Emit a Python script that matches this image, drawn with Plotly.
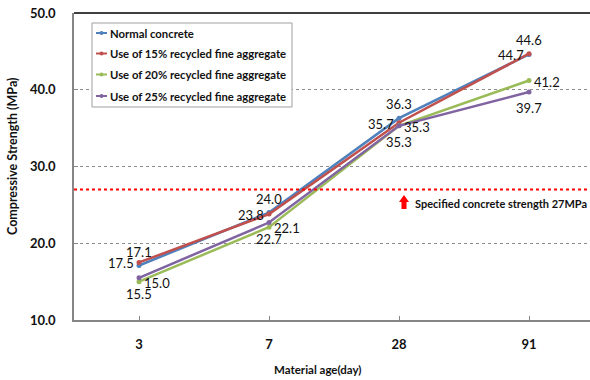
import plotly.graph_objects as go

ages = ["3", "7", "28", "91"]
normal = [17.1, 24.0, 36.3, 44.6]
rfa15 = [17.5, 23.8, 35.7, 44.7]
rfa20 = [15.0, 22.1, 35.3, 41.2]
rfa25 = [15.5, 22.7, 35.3, 39.7]
spec_strength = 27
names = ["Normal concrete", "Use of 15% recycled fine aggregate",
         "Use of 20% recycled fine aggregate", "Use of 25% recycled fine aggregate"]
series = [normal, rfa15, rfa20, rfa25]
colors = ["#4F81BD", "#C0504D", "#9BBB59", "#8064A2"]
# label offsets (px) relative to the point: (xshift, yshift)
label_shift = [(0, 14), (-18, -1), (18, -1), (0, -16)]

W, H = 590, 380
L, T, B = 74, 13, 60
plot_w = W - L
plot_h = H - T - B
cat_px = 130
xpos = list(range(len(ages)))
x_max = -0.5 + plot_w / cat_px


def px_to_x(px):
    return (px - L) / plot_w


def py_to_p(py):
    return (H - B - py) / plot_h


def py_to_y(py):
    return 10 + (H - B - py) / (plot_h / 40)


fig = go.Figure()
for name, vals, col in zip(names, series, colors):
    fig.add_trace(go.Scatter(
        x=xpos, y=vals, name=name, mode="lines+markers",
        line=dict(color=col, width=2.5),
        marker=dict(color=col, size=5, symbol="circle"),
        showlegend=False,
    ))

for vals, (dx, dy) in zip(series, label_shift):
    for xi, v in zip(xpos, vals):
        fig.add_annotation(x=xi, y=v, xref="x", yref="y", showarrow=False,
                           text=f"{v:.1f}", xshift=dx, yshift=dy,
                           font=dict(family="Lato", size=13, color="#111111"))

fig.add_hline(y=spec_strength, line=dict(color="#FF0000", width=2, dash="dot"))

# arrow shape
path = (f"M {px_to_x(404)} {py_to_y(195)} L {px_to_x(409)} {py_to_y(202)} "
        f"L {px_to_x(406.5)} {py_to_y(202)} L {px_to_x(406.5)} {py_to_y(209)} "
        f"L {px_to_x(401.5)} {py_to_y(209)} L {px_to_x(401.5)} {py_to_y(202)} "
        f"L {px_to_x(399)} {py_to_y(202)} Z")
fig.add_shape(type="path", path=path, xref="paper", yref="y",
              fillcolor="#FF0000", line=dict(width=0))
fig.add_annotation(x=px_to_x(413), y=py_to_y(203), xref="paper", yref="y",
                   xanchor="left", yanchor="middle", showarrow=False,
                   text=f"<b>Specified concrete strength {spec_strength}MPa</b>",
                   font=dict(family="Lato", size=11, color="#111111"))

# top border line
fig.add_shape(type="line", xref="paper", yref="paper", x0=0, x1=1, y0=1, y1=1,
              line=dict(color="#000000", width=1.5))

# custom legend
fig.add_shape(type="rect", xref="paper", yref="paper", layer="above",
              x0=px_to_x(92), x1=px_to_x(292), y0=py_to_p(107), y1=py_to_p(23),
              fillcolor="white", line=dict(color="#A0A0A0", width=1))
leg_y = [33, 53.5, 74.5, 96]
for name, col, ly in zip(names, colors, leg_y):
    fig.add_shape(type="line", xref="paper", yref="paper", layer="above",
                  x0=px_to_x(96), x1=px_to_x(107), y0=py_to_p(ly), y1=py_to_p(ly),
                  line=dict(color=col, width=2))
    fig.add_shape(type="circle", xref="paper", yref="paper", layer="above",
                  x0=px_to_x(99.5), x1=px_to_x(103.5), y0=py_to_p(ly + 2), y1=py_to_p(ly - 2),
                  fillcolor=col, line=dict(width=0))
    fig.add_annotation(x=px_to_x(108), y=py_to_p(ly), xref="paper", yref="paper",
                       xanchor="left", yanchor="middle", showarrow=False,
                       text=f"<b>{name}</b>",
                       font=dict(family="Lato", size=11.3, color="#111111"))

fig.add_annotation(x=px_to_x(318), y=py_to_p(369), xref="paper", yref="paper",
                   xanchor="center", yanchor="middle",
                   showarrow=False, text="<b>Material age(day)</b>",
                   font=dict(family="Lato", size=11.5, color="#111111"))
fig.add_annotation(x=px_to_x(12), y=py_to_p(157), xref="paper", yref="paper",
                   xanchor="center", yanchor="middle",
                   showarrow=False, textangle=-90,
                   text="<b>Compressive Strength (MPa)</b>",
                   font=dict(family="Lato", size=12.5, color="#111111"))

fig.update_layout(
    width=W, height=H,
    margin=dict(l=L, r=0, t=T, b=B),
    plot_bgcolor="white", paper_bgcolor="white",
    font=dict(family="Lato", color="#111111"),
    showlegend=False,
    xaxis=dict(range=[-0.5, x_max], tickmode="array", tickvals=xpos, ticktext=ages,
               showgrid=False, zeroline=False, showline=True, linecolor="#868686",
               linewidth=1.5, ticks="inside", ticklen=4, tickcolor="#868686",
               tickfont=dict(family="Lato", size=13, color="#111111", weight="bold"),
               ticklabelstandoff=12),
    yaxis=dict(range=[10, 50], dtick=10, tickformat=".1f", showgrid=True,
               gridcolor="#8C8C8C", griddash="dot", gridwidth=1, zeroline=False,
               showline=True, linecolor="#868686", linewidth=1.5,
               ticks="inside", ticklen=4, tickcolor="#868686",
               tickfont=dict(family="Lato", size=13, color="#111111", weight="bold"),
               ticklabelstandoff=14),
)

fig.write_html("out.html")
